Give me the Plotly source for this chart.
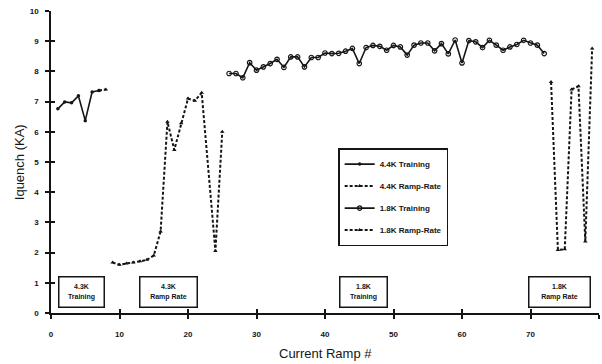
import plotly.graph_objects as go

# ---- data ----
train43_x = [1, 2, 3, 4, 5, 6, 7]
train43_y = [6.76, 6.99, 6.96, 7.19, 6.37, 7.32, 7.37]

ramp43_x = [7, 8, None, 9, 10, 11, 12, 13, 14, 15, 16, 17, 18, 19, 20, 21, 22, 24, 25]
ramp43_y = [7.37, 7.40, None, 1.67, 1.60, 1.64, 1.67, 1.71, 1.76, 1.90, 2.70, 6.33, 5.40, 6.28, 7.10, 7.03, 7.29, 2.05, 6.00]

train18_x = list(range(26, 73))
train18_y = [7.93, 7.93, 7.79, 8.29, 8.04, 8.15, 8.26, 8.40, 8.13, 8.48,
             8.48, 8.15, 8.46, 8.46, 8.61, 8.59, 8.60, 8.67, 8.76, 8.26,
             8.79, 8.86, 8.83, 8.70, 8.86, 8.81, 8.54, 8.87, 8.94, 8.94,
             8.68, 8.92, 8.58, 9.04, 8.28, 9.02, 8.98, 8.79, 9.03, 8.87,
             8.70, 8.81, 8.89, 9.03, 8.94, 8.87, 8.59]

ramp18_x = [73, 74, 75, 76, 77, 78, 79]
ramp18_y = [7.65, 2.09, 2.11, 7.40, 7.51, 2.37, 8.76]

legend_names = ["4.4K Training", "4.4K Ramp-Rate", "1.8K Training", "1.8K Ramp-Rate"]
box_texts = ["4.3K<br>Training", "4.3K<br>Ramp Rate", "1.8K<br>Training", "1.8K<br>Ramp Rate"]
box_x = [4.5, 17.2, 45.6, 74.2]
box_w = [38, 50, 40, 54]

x_ticks = list(range(0, 81, 10))
y_ticks = list(range(0, 11))

INK = "#151515"
DASH = "3px,2px"

fig = go.Figure()
fig.add_trace(go.Scatter(x=train43_x, y=train43_y, mode="lines+markers", name=legend_names[0],
                         legendgroup="a",
                         line=dict(color=INK, width=1.6),
                         marker=dict(symbol="circle", size=3.5, color=INK)))
fig.add_trace(go.Scatter(x=ramp43_x, y=ramp43_y, mode="lines+markers", name=legend_names[1],
                         legendgroup="b", connectgaps=False,
                         line=dict(color=INK, width=2, dash=DASH),
                         marker=dict(symbol="triangle-up", size=4, color=INK)))
fig.add_trace(go.Scatter(x=train18_x, y=train18_y, mode="lines+markers", name=legend_names[2],
                         legendgroup="c",
                         line=dict(color=INK, width=1.6),
                         marker=dict(symbol="circle-open", size=4.5, color=INK, line=dict(width=1.2))))
fig.add_trace(go.Scatter(x=ramp18_x, y=ramp18_y, mode="lines+markers", name=legend_names[3],
                         legendgroup="d",
                         line=dict(color=INK, width=2, dash=DASH),
                         marker=dict(symbol="triangle-up", size=4, color=INK)))
# invisible trace to carry the inner tick overlay axes
fig.add_trace(go.Scatter(x=[0], y=[0], xaxis="x2", yaxis="y2", mode="markers",
                         marker=dict(opacity=0), showlegend=False, hoverinfo="skip"))

tickfont = dict(family="Liberation Sans", size=8, color=INK, weight="bold")
fig.update_layout(
    width=602, height=364,
    margin=dict(l=51, r=3, t=11, b=51),
    paper_bgcolor="white", plot_bgcolor="white",
    xaxis=dict(range=[0, 80], tickvals=x_ticks, ticks="outside", ticklen=4, tickwidth=1.5,
               tickcolor=INK, showline=True, linecolor=INK, linewidth=1.5, showgrid=False,
               zeroline=False, tickfont=tickfont, ticklabelstandoff=9),
    yaxis=dict(range=[0, 10], tickvals=y_ticks, ticks="outside", ticklen=4, tickwidth=1.5,
               tickcolor=INK, showline=True, linecolor=INK, linewidth=1.5, showgrid=False,
               zeroline=False, tickfont=tickfont, ticklabelstandoff=5),
    xaxis2=dict(overlaying="x", anchor="y2", range=[0, 80], tickvals=x_ticks, ticks="inside",
                ticklen=4, tickwidth=1.5, tickcolor=INK, showticklabels=False, showline=False,
                showgrid=False, zeroline=False),
    yaxis2=dict(overlaying="y", anchor="x2", range=[0, 10], tickvals=y_ticks, ticks="inside",
                ticklen=4, tickwidth=1.5, tickcolor=INK, showticklabels=False, showline=False,
                showgrid=False, zeroline=False),
    showlegend=True,
    legend=dict(x=0.524, y=0.546, xanchor="left", yanchor="top",
                bordercolor=INK, borderwidth=1.5, bgcolor="white",
                font=dict(family="Liberation Sans", size=8, color=INK, weight="bold"),
                tracegroupgap=3, itemwidth=30),
    hovermode=False,
)

annotations = []
for t, bx, bw in zip(box_texts, box_x, box_w):
    annotations.append(dict(x=bx, y=0.70, xref="x", yref="y", text=t, showarrow=False,
                            font=dict(family="Liberation Sans", size=7, color=INK, weight="bold"),
                            bordercolor=INK, borderwidth=1.5, borderpad=3, bgcolor="white",
                            width=bw, height=23, align="center"))
annotations.append(dict(x=0.5, y=-0.134, xref="paper", yref="paper", text="Current Ramp #",
                        showarrow=False, yanchor="middle",
                        font=dict(family="Liberation Sans", size=13, color=INK)))
annotations.append(dict(x=-0.058, y=0.5, xref="paper", yref="paper", text="Iquench (KA)",
                        showarrow=False, textangle=-90, xanchor="center",
                        font=dict(family="Liberation Sans", size=13, color=INK)))
fig.update_layout(annotations=annotations)

fig.write_html("out.html")
